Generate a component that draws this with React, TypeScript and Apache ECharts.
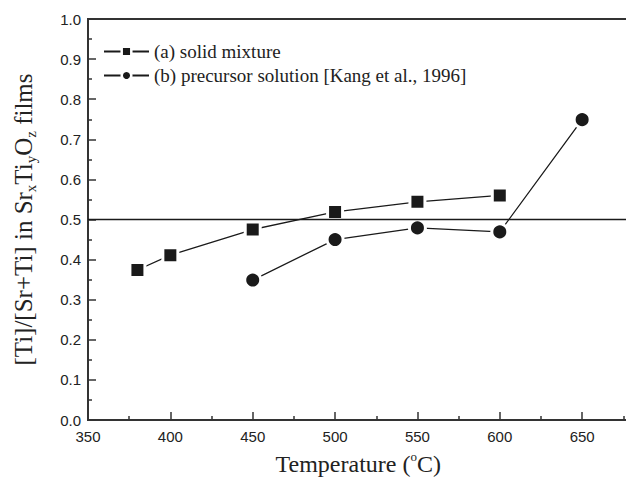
import React, { useEffect, useRef } from "react";
import * as echarts from "echarts";

const temperaturesA = [380, 400, 450, 500, 550, 600];
const valuesA = [0.374, 0.411, 0.475, 0.519, 0.544, 0.56];
const temperaturesB = [450, 500, 550, 600, 650];
const valuesB = [0.349, 0.45, 0.479, 0.469, 0.749];
const referenceLevel = 0.5;
const seriesNames = ["(a) solid mixture", "(b) precursor solution [Kang et al., 1996]"];

const serif = "'Liberation Serif', 'DejaVu Serif', serif";
const sans = "'Liberation Sans', Arial, sans-serif";

export default function App() {
  const ref = useRef<HTMLDivElement>(null);
  useEffect(() => {
    if (!ref.current) return;
    const chart = echarts.init(ref.current, undefined, { renderer: "svg" });
    const lineColor = "#1a1a1a";
    const axisColor = "#333";
    const mkSeries = (name: string, xs: number[], ys: number[], symbol: string, size: number) => ({
      name,
      type: "line",
      data: xs.map((x, i) => [x, ys[i]]),
      symbol,
      symbolSize: size,
      showSymbol: true,
      z: 3,
      lineStyle: { color: lineColor, width: 1.3 },
      itemStyle: { color: lineColor, borderColor: "#fff", borderWidth: 3 },
      emphasis: { disabled: true },
    });
    chart.setOption({
      animation: false,
      grid: {
        left: 88,
        top: 19,
        bottom: 60,
        right: 15.5,
        show: true,
        borderColor: axisColor,
        borderWidth: 2,
        backgroundColor: "transparent",
      },
      legend: {
        orient: "vertical",
        left: 103,
        top: 42,
        padding: 0,
        itemGap: 5,
        itemWidth: 45,
        itemHeight: 12,
        itemStyle: { borderColor: "#fff", borderWidth: 2.5 },
        textStyle: { fontFamily: serif, fontSize: 19, color: "#222", padding: [0, 0, 0, 0] },
        data: seriesNames,
      },
      xAxis: {
        type: "value",
        min: 350,
        max: 700,
        interval: 50,
        name: "{n|Temperature (}{sup|o}{n|C)}",
        nameLocation: "middle",
        nameGap: 30,
        nameTextStyle: {
          padding: [0, 36, 0, 0],
          rich: {
            n: { fontFamily: serif, fontSize: 24, color: "#222", lineHeight: 28 },
            sup: { fontFamily: serif, fontSize: 13, color: "#222", verticalAlign: "top", lineHeight: 13 },
          },
        },
        axisLine: { lineStyle: { color: axisColor, width: 2 } },
        axisTick: { inside: true, length: 8, lineStyle: { color: axisColor, width: 1.5 } },
        minorTick: { show: true, splitNumber: 2, length: 4, lineStyle: { color: axisColor, width: 1.5 } },
        splitLine: { show: false },
        axisLabel: {
          fontFamily: sans,
          fontSize: 15,
          color: "#222",
          margin: 9,
          showMaxLabel: false,
        },
      },
      yAxis: {
        type: "value",
        min: 0,
        max: 1,
        interval: 0.1,
        name: "{n|[Ti]/[Sr+Ti] in Sr}{s|x}{n|Ti}{s|y}{n|O}{s|z}{n| films}",
        nameLocation: "middle",
        nameRotate: 90,
        nameGap: 50,
        nameTextStyle: {
          rich: {
            n: { fontFamily: serif, fontSize: 25, color: "#222", lineHeight: 30 },
            s: { fontFamily: serif, fontSize: 15, color: "#222", verticalAlign: "bottom", lineHeight: 15 },
          },
        },
        axisLine: { lineStyle: { color: axisColor, width: 2 } },
        axisTick: { inside: true, length: 8, lineStyle: { color: axisColor, width: 1.5 } },
        minorTick: { show: true, splitNumber: 2, length: 4, lineStyle: { color: axisColor, width: 1.5 } },
        splitLine: { show: false },
        axisLabel: {
          fontFamily: sans,
          fontSize: 15,
          color: "#222",
          margin: 7,
          formatter: (v: number) => v.toFixed(1),
        },
      },
      series: [
        mkSeries(seriesNames[0], temperaturesA, valuesA, "rect", 15),
        mkSeries(seriesNames[1], temperaturesB, valuesB, "circle", 16),
        {
          name: "reference",
          type: "line",
          data: [],
          z: 4,
          markLine: {
            silent: true,
            symbol: "none",
            label: { show: false },
            lineStyle: { color: lineColor, width: 1.3, type: "solid" },
            data: [{ yAxis: referenceLevel }],
          },
        },
      ],
    });
    return () => chart.dispose();
  }, []);
  return (
    <div
      style={{
        position: "absolute",
        left: 0,
        top: 0,
        width: 626,
        height: 481,
        overflow: "hidden",
        background: "#fff",
      }}
    >
      <div ref={ref} style={{ width: 680, height: 481 }} />
    </div>
  );
}
